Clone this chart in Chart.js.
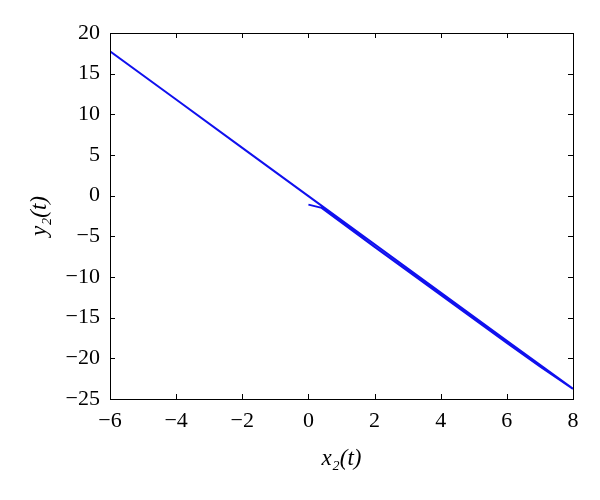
<!DOCTYPE html>
<html>
<head>
<meta charset="utf-8">
<script src="https://cdn.jsdelivr.net/npm/chart.js@4.4.1/dist/chart.umd.min.js"></script>
<style>
html,body{margin:0;padding:0;background:#fff;}
#c{display:block;}
</style>
</head>
<body>
<canvas id="c" width="600" height="500"></canvas>
<script>
// Trajectory (x2(t), y2(t)) in drawing order
const xValues = [0, 0.4, 2, 4, 6, 7, 8, 6, 4, 2, 0, -2, -4, -6];
const yValues = [-1.1, -1.5, -6.3, -12.2, -18.1, -21.0, -23.75, -17.83, -11.9, -5.97, -0.05, 5.88, 11.82, 17.75];
const xTicks = [-6, -4, -2, 0, 2, 4, 6, 8];
const yTicks = [-25, -20, -15, -10, -5, 0, 5, 10, 15, 20];
const xTitle = 'x\u2082(t)';
const yTitle = 'y\u2082(t)';

const points = xValues.map((x, i) => ({x: x, y: yValues[i]}));
const FONT = '"Liberation Serif", "DejaVu Serif", serif';
const fmt = v => (v < 0 ? '\u2212' + Math.abs(v) : String(v));

const boxTicks = {
  id: 'boxTicks',
  afterDraw(chart) {
    const {ctx, chartArea: a, scales} = chart;
    ctx.save();
    ctx.strokeStyle = '#000';
    ctx.lineWidth = 1;
    ctx.beginPath();
    const L = 5;
    xTicks.forEach(v => {
      const px = Math.round(scales.x.getPixelForValue(v)) + 0.5;
      ctx.moveTo(px, a.bottom); ctx.lineTo(px, a.bottom - L);
      ctx.moveTo(px, a.top); ctx.lineTo(px, a.top + L);
    });
    yTicks.forEach(v => {
      const py = Math.round(scales.y.getPixelForValue(v)) + 0.5;
      ctx.moveTo(a.left, py); ctx.lineTo(a.left + L, py);
      ctx.moveTo(a.right, py); ctx.lineTo(a.right - L, py);
    });
    ctx.stroke();
    ctx.strokeRect(Math.round(a.left) + 0.5, Math.round(a.top) + 0.5,
                   Math.round(a.right - a.left), Math.round(a.bottom - a.top));
    ctx.restore();
  }
};

new Chart(document.getElementById('c'), {
  type: 'scatter',
  data: {
    datasets: [{
      data: points,
      showLine: true,
      borderColor: '#1010ee',
      borderWidth: 2,
      pointRadius: 0,
      tension: 0,
      fill: false
    }]
  },
  options: {
    responsive: false,
    animation: false,
    layout: {padding: {left: 0, right: 27, top: 33, bottom: 0}},
    plugins: {legend: {display: false}, tooltip: {enabled: false}},
    scales: {
      x: {
        type: 'linear',
        min: -6, max: 8,
        afterBuildTicks: s => { s.ticks = xTicks.map(v => ({value: v})); },
        afterFit: s => { s.height = 101; },
        grid: {display: false, drawTicks: false},
        border: {display: false},
        ticks: {color: '#000', padding: 9, maxRotation: 0, font: {family: FONT, size: 22}, callback: v => fmt(v)},
        title: {display: true, text: xTitle, color: '#000', padding: {top: 0, bottom: 27}, font: {family: FONT, size: 23, style: 'italic'}}
      },
      y: {
        type: 'linear',
        min: -25, max: 20,
        afterBuildTicks: s => { s.ticks = yTicks.map(v => ({value: v})); },
        afterFit: s => { s.width = 110; },
        grid: {display: false, drawTicks: false},
        border: {display: false},
        ticks: {color: '#000', padding: 10, font: {family: FONT, size: 22}, callback: v => fmt(v)},
        title: {display: true, text: yTitle, color: '#000', padding: {top: 26, bottom: 0}, font: {family: FONT, size: 23, style: 'italic'}}
      }
    }
  },
  plugins: [boxTicks]
});
</script>
</body>
</html>
